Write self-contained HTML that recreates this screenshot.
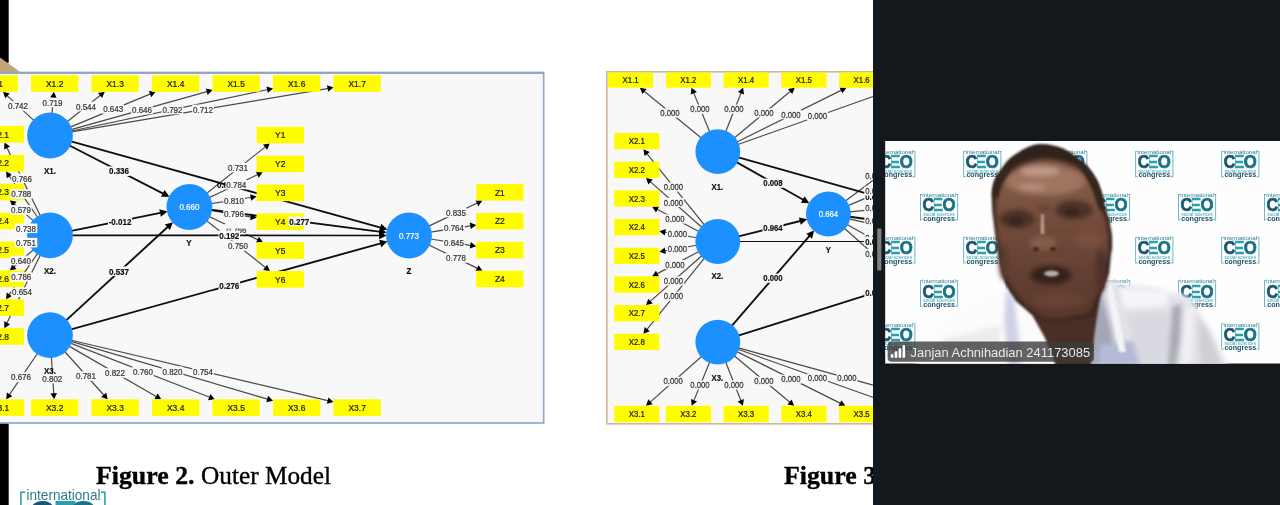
<!DOCTYPE html>
<html lang="en">
<head>
<meta charset="utf-8">
<title>Figure 2. Outer Model</title>
<style>
html,body{margin:0;padding:0;background:#fff;}
body{width:1280px;height:505px;overflow:hidden;position:relative;font-family:"Liberation Sans",sans-serif;}
svg{position:absolute;left:0;top:0;display:block;}
svg text{font-family:"Liberation Sans",sans-serif;}
.t{font-size:9.1px;text-anchor:middle;fill:#222;stroke:#222;stroke-width:0.25px;}
.t.g{fill:#383838;stroke:#383838;}
.t.b{font-weight:bold;fill:#111;stroke:#111;stroke-width:0.2px;}
.t.s{font-size:8.7px;}
.t.st{text-anchor:start;}
.t.w{fill:#fff;stroke:#fff;stroke-width:0.2px;}
.cap{font-family:"Liberation Serif",serif;font-size:24.8px;fill:#000;stroke:#000;stroke-width:0.35px;}
.nm{font-size:13.6px;fill:#e9e9e9;}
</style>
</head>
<body>
<svg width="1280" height="505" viewBox="0 0 1280 505">
<defs>
<filter id="bl" x="-5%" y="-5%" width="110%" height="110%"><feGaussianBlur stdDeviation="0.45"/></filter>
<filter id="bl2" x="-10%" y="-10%" width="120%" height="120%"><feGaussianBlur stdDeviation="2.4"/></filter>
<filter id="bl1" x="-10%" y="-10%" width="120%" height="120%"><feGaussianBlur stdDeviation="1"/></filter>
<filter id="bl3" x="-5%" y="-5%" width="110%" height="110%"><feGaussianBlur stdDeviation="0.35"/></filter>
<linearGradient id="skin" gradientUnits="userSpaceOnUse" x1="0" y1="160" x2="0" y2="320"><stop offset="0" stop-color="#8a624f"/><stop offset="0.4" stop-color="#734b3b"/><stop offset="1" stop-color="#56362a"/></linearGradient>
<clipPath id="cv"><rect x="885.2" y="141" width="395" height="222.5"/></clipPath>
<clipPath id="cl"><rect x="0" y="0" width="873" height="505"/></clipPath>
</defs>
<rect x="0" y="0" width="1280" height="505" fill="#fff"/>
<g clip-path="url(#cl)">
<g filter="url(#bl)">
<rect x="0" y="0" width="8.7" height="62.8" fill="#000"/>
<polygon points="0,57.5 21,72.4 0,72.4" fill="#c2a678"/>
<g id="fig2">
<rect x="-40" y="72.5" width="583.7" height="350.5" fill="#f8f8f9" stroke="#94a8c8" stroke-width="1.7"/>
<rect x="-40" y="72.2" width="583.7" height="1.7" fill="#90a4c6"/>
<line x1="33.97" y1="120.58" x2="6.58" y2="95.07" stroke="#4a4a4a" stroke-width="1.2"/>
<polygon points="3.06,91.8 9.7,93.47 5.21,98.3" fill="#000"/>
<line x1="51.95" y1="113.69" x2="53.48" y2="96.58" stroke="#4a4a4a" stroke-width="1.2"/>
<polygon points="53.91,91.8 56.66,98.07 50.09,97.48" fill="#000"/>
<line x1="67.12" y1="121.84" x2="101" y2="94.79" stroke="#4a4a4a" stroke-width="1.2"/>
<polygon points="104.75,91.8 102.12,98.12 98,92.96" fill="#000"/>
<line x1="70.24" y1="127.13" x2="151.16" y2="93.64" stroke="#4a4a4a" stroke-width="1.2"/>
<polygon points="155.59,91.8 151.31,97.14 148.79,91.05" fill="#000"/>
<line x1="71.09" y1="129.61" x2="207.88" y2="91.4" stroke="#4a4a4a" stroke-width="1.2"/>
<polygon points="212.5,90.11 207.61,94.9 205.83,88.54" fill="#000"/>
<line x1="71.43" y1="130.98" x2="268.3" y2="89.48" stroke="#4a4a4a" stroke-width="1.2"/>
<polygon points="273,88.49 267.81,92.95 266.45,86.49" fill="#000"/>
<line x1="71.59" y1="131.84" x2="328.77" y2="88.31" stroke="#4a4a4a" stroke-width="1.2"/>
<polygon points="333.5,87.5 328.14,91.76 327.03,85.25" fill="#000"/>
<line x1="37.65" y1="353.28" x2="8.93" y2="395.34" stroke="#4a4a4a" stroke-width="1.2"/>
<polygon points="6.22,399.3 6.88,392.48 12.33,396.21" fill="#000"/>
<line x1="51.4" y1="357.05" x2="53.81" y2="394.51" stroke="#4a4a4a" stroke-width="1.2"/>
<polygon points="54.12,399.3 50.44,393.52 57.03,393.1" fill="#000"/>
<line x1="64.65" y1="351.48" x2="104.47" y2="395.73" stroke="#4a4a4a" stroke-width="1.2"/>
<polygon points="107.68,399.3 101.21,397.05 106.12,392.63" fill="#000"/>
<line x1="68.98" y1="346.13" x2="157.09" y2="396.9" stroke="#4a4a4a" stroke-width="1.2"/>
<polygon points="161.25,399.3 154.4,399.16 157.69,393.45" fill="#000"/>
<line x1="70.41" y1="343.14" x2="210.34" y2="397.56" stroke="#4a4a4a" stroke-width="1.2"/>
<polygon points="214.81,399.3 208.02,400.2 210.41,394.05" fill="#000"/>
<line x1="71.01" y1="341.37" x2="268.39" y2="399.31" stroke="#4a4a4a" stroke-width="1.2"/>
<polygon points="273,400.66 266.31,402.13 268.17,395.8" fill="#000"/>
<line x1="71.32" y1="340.22" x2="328.83" y2="400.92" stroke="#4a4a4a" stroke-width="1.2"/>
<polygon points="333.5,402.03 326.9,403.86 328.42,397.44" fill="#000"/>
<line x1="40.34" y1="215.65" x2="6.55" y2="146.91" stroke="#4a4a4a" stroke-width="1.2"/>
<polygon points="4.43,142.6 10.04,146.53 4.12,149.44" fill="#000"/>
<line x1="37.58" y1="217.26" x2="8.79" y2="175.43" stroke="#4a4a4a" stroke-width="1.2"/>
<polygon points="6.06,171.48 12.18,174.55 6.75,178.29" fill="#000"/>
<line x1="33.49" y1="220.92" x2="13.5" y2="203.51" stroke="#4a4a4a" stroke-width="1.2"/>
<polygon points="9.88,200.36 16.57,201.81 12.24,206.79" fill="#000"/>
<line x1="28.96" y1="229.22" x2="28.61" y2="229.11" stroke="#4a4a4a" stroke-width="1.2"/>
<polygon points="24,227.78 30.68,226.28 28.85,232.62" fill="#000"/>
<line x1="28.98" y1="241.45" x2="28.61" y2="241.56" stroke="#4a4a4a" stroke-width="1.2"/>
<polygon points="24,242.9 28.83,238.05 30.69,244.39" fill="#000"/>
<line x1="33.51" y1="249.71" x2="13.46" y2="267.24" stroke="#4a4a4a" stroke-width="1.2"/>
<polygon points="9.85,270.4 12.19,263.97 16.53,268.94" fill="#000"/>
<line x1="37.6" y1="253.35" x2="8.77" y2="295.32" stroke="#4a4a4a" stroke-width="1.2"/>
<polygon points="6.05,299.28 6.73,292.47 12.17,296.2" fill="#000"/>
<line x1="40.35" y1="254.96" x2="6.54" y2="323.85" stroke="#4a4a4a" stroke-width="1.2"/>
<polygon points="4.42,328.16 4.1,321.32 10.03,324.23" fill="#000"/>
<line x1="206.57" y1="193.41" x2="266" y2="146.38" stroke="#4a4a4a" stroke-width="1.2"/>
<polygon points="269.76,143.4 267.11,149.71 263.01,144.54" fill="#000"/>
<line x1="209.19" y1="197.62" x2="258.4" y2="174.31" stroke="#4a4a4a" stroke-width="1.2"/>
<polygon points="262.73,172.25 258.73,177.8 255.9,171.84" fill="#000"/>
<line x1="211.04" y1="203.62" x2="251.86" y2="197.24" stroke="#4a4a4a" stroke-width="1.2"/>
<polygon points="256.6,196.5 251.18,200.68 250.16,194.16" fill="#000"/>
<line x1="211.02" y1="210.49" x2="251.86" y2="217.07" stroke="#4a4a4a" stroke-width="1.2"/>
<polygon points="256.6,217.84 250.15,220.14 251.2,213.62" fill="#000"/>
<line x1="209.15" y1="216.46" x2="258.59" y2="240.13" stroke="#4a4a4a" stroke-width="1.2"/>
<polygon points="262.92,242.2 256.08,242.59 258.93,236.63" fill="#000"/>
<line x1="206.53" y1="220.64" x2="266.07" y2="268.06" stroke="#4a4a4a" stroke-width="1.2"/>
<polygon points="269.83,271.05 263.08,269.89 267.19,264.73" fill="#000"/>
<line x1="428.78" y1="226.1" x2="478.06" y2="202.66" stroke="#4a4a4a" stroke-width="1.2"/>
<polygon points="482.4,200.6 478.39,206.16 475.56,200.2" fill="#000"/>
<line x1="430.63" y1="232.09" x2="471.46" y2="225.67" stroke="#4a4a4a" stroke-width="1.2"/>
<polygon points="476.2,224.92 470.79,229.12 469.76,222.6" fill="#000"/>
<line x1="430.62" y1="238.97" x2="471.46" y2="245.54" stroke="#4a4a4a" stroke-width="1.2"/>
<polygon points="476.2,246.3 469.75,248.61 470.8,242.09" fill="#000"/>
<line x1="428.75" y1="244.96" x2="478.19" y2="268.63" stroke="#4a4a4a" stroke-width="1.2"/>
<polygon points="482.52,270.7 475.68,271.09 478.53,265.13" fill="#000"/>
<line x1="69.49" y1="145.49" x2="164.13" y2="194.04" stroke="#111" stroke-width="1.9"/>
<polygon points="169.47,196.78 161.06,196.74 164.53,189.97" fill="#000"/>
<line x1="71.46" y1="230.94" x2="161.57" y2="212.65" stroke="#111" stroke-width="1.9"/>
<polygon points="167.45,211.46 160.85,216.67 159.34,209.22" fill="#000"/>
<line x1="66.12" y1="320.38" x2="168.5" y2="226.22" stroke="#111" stroke-width="1.9"/>
<polygon points="172.91,222.16 169.96,230.04 164.82,224.44" fill="#000"/>
<line x1="71.1" y1="141.38" x2="381.64" y2="227.88" stroke="#111" stroke-width="1.9"/>
<polygon points="387.42,229.49 379.18,231.14 381.22,223.82" fill="#000"/>
<line x1="71.9" y1="235.31" x2="380.6" y2="235.48" stroke="#111" stroke-width="1.7"/>
<polygon points="386.6,235.49 379.1,239.28 379.1,231.68" fill="#000"/>
<line x1="71.1" y1="329.34" x2="381.64" y2="243.1" stroke="#111" stroke-width="1.9"/>
<polygon points="387.42,241.49 381.21,247.16 379.17,239.84" fill="#000"/>
<line x1="211.12" y1="209.82" x2="380.84" y2="231.84" stroke="#111" stroke-width="1.9"/>
<polygon points="386.79,232.62 378.86,235.42 379.84,227.88" fill="#000"/>
<rect x="-29.5" y="75.2" width="47.3" height="16.6" fill="#fffb00"/>
<text transform="translate(-5.85 86.78) scale(0.93 1)" class="t">X1.1</text>
<rect x="31" y="75.2" width="47.3" height="16.6" fill="#fffb00"/>
<text transform="translate(54.65 86.78) scale(0.93 1)" class="t">X1.2</text>
<rect x="91.5" y="75.2" width="47.3" height="16.6" fill="#fffb00"/>
<text transform="translate(115.15 86.78) scale(0.93 1)" class="t">X1.3</text>
<rect x="152" y="75.2" width="47.3" height="16.6" fill="#fffb00"/>
<text transform="translate(175.65 86.78) scale(0.93 1)" class="t">X1.4</text>
<rect x="212.5" y="75.2" width="47.3" height="16.6" fill="#fffb00"/>
<text transform="translate(236.15 86.78) scale(0.93 1)" class="t">X1.5</text>
<rect x="273" y="75.2" width="47.3" height="16.6" fill="#fffb00"/>
<text transform="translate(296.65 86.78) scale(0.93 1)" class="t">X1.6</text>
<rect x="333.5" y="75.2" width="47.3" height="16.6" fill="#fffb00"/>
<text transform="translate(357.15 86.78) scale(0.93 1)" class="t">X1.7</text>
<rect x="-23.1" y="399.3" width="47.3" height="16.6" fill="#fffb00"/>
<text transform="translate(0.55 410.88) scale(0.93 1)" class="t">X3.1</text>
<rect x="31" y="399.3" width="47.3" height="16.6" fill="#fffb00"/>
<text transform="translate(54.65 410.88) scale(0.93 1)" class="t">X3.2</text>
<rect x="91.5" y="399.3" width="47.3" height="16.6" fill="#fffb00"/>
<text transform="translate(115.15 410.88) scale(0.93 1)" class="t">X3.3</text>
<rect x="152" y="399.3" width="47.3" height="16.6" fill="#fffb00"/>
<text transform="translate(175.65 410.88) scale(0.93 1)" class="t">X3.4</text>
<rect x="212.5" y="399.3" width="47.3" height="16.6" fill="#fffb00"/>
<text transform="translate(236.15 410.88) scale(0.93 1)" class="t">X3.5</text>
<rect x="273" y="399.3" width="47.3" height="16.6" fill="#fffb00"/>
<text transform="translate(296.65 410.88) scale(0.93 1)" class="t">X3.6</text>
<rect x="333.5" y="399.3" width="47.3" height="16.6" fill="#fffb00"/>
<text transform="translate(357.15 410.88) scale(0.93 1)" class="t">X3.7</text>
<rect x="-23.3" y="126" width="47.3" height="16.6" fill="#fffb00"/>
<text transform="translate(0.35 137.58) scale(0.93 1)" class="t">X2.1</text>
<rect x="-23.3" y="154.88" width="47.3" height="16.6" fill="#fffb00"/>
<text transform="translate(0.35 166.46) scale(0.93 1)" class="t">X2.2</text>
<rect x="-23.3" y="183.76" width="47.3" height="16.6" fill="#fffb00"/>
<text transform="translate(0.35 195.34) scale(0.93 1)" class="t">X2.3</text>
<rect x="-23.3" y="212.64" width="47.3" height="16.6" fill="#fffb00"/>
<text transform="translate(0.35 224.22) scale(0.93 1)" class="t">X2.4</text>
<rect x="-23.3" y="241.52" width="47.3" height="16.6" fill="#fffb00"/>
<text transform="translate(0.35 253.1) scale(0.93 1)" class="t">X2.5</text>
<rect x="-23.3" y="270.4" width="47.3" height="16.6" fill="#fffb00"/>
<text transform="translate(0.35 281.98) scale(0.93 1)" class="t">X2.6</text>
<rect x="-23.3" y="299.28" width="47.3" height="16.6" fill="#fffb00"/>
<text transform="translate(0.35 310.86) scale(0.93 1)" class="t">X2.7</text>
<rect x="-23.3" y="328.16" width="47.3" height="16.6" fill="#fffb00"/>
<text transform="translate(0.35 339.74) scale(0.93 1)" class="t">X2.8</text>
<rect x="256.6" y="126.8" width="47.3" height="16.6" fill="#fffb00"/>
<text transform="translate(280.25 138.38) scale(0.93 1)" class="t">Y1</text>
<rect x="256.6" y="155.65" width="47.3" height="16.6" fill="#fffb00"/>
<text transform="translate(280.25 167.23) scale(0.93 1)" class="t">Y2</text>
<rect x="256.6" y="184.5" width="47.3" height="16.6" fill="#fffb00"/>
<text transform="translate(280.25 196.08) scale(0.93 1)" class="t">Y3</text>
<rect x="256.6" y="213.35" width="47.3" height="16.6" fill="#fffb00"/>
<text transform="translate(280.25 224.93) scale(0.93 1)" class="t">Y4</text>
<rect x="256.6" y="242.2" width="47.3" height="16.6" fill="#fffb00"/>
<text transform="translate(280.25 253.78) scale(0.93 1)" class="t">Y5</text>
<rect x="256.6" y="271.05" width="47.3" height="16.6" fill="#fffb00"/>
<text transform="translate(280.25 282.63) scale(0.93 1)" class="t">Y6</text>
<rect x="476.2" y="184" width="47.3" height="16.6" fill="#fffb00"/>
<text transform="translate(499.85 195.58) scale(0.93 1)" class="t">Z1</text>
<rect x="476.2" y="212.9" width="47.3" height="16.6" fill="#fffb00"/>
<text transform="translate(499.85 224.48) scale(0.93 1)" class="t">Z2</text>
<rect x="476.2" y="241.8" width="47.3" height="16.6" fill="#fffb00"/>
<text transform="translate(499.85 253.38) scale(0.93 1)" class="t">Z3</text>
<rect x="476.2" y="270.7" width="47.3" height="16.6" fill="#fffb00"/>
<text transform="translate(499.85 282.28) scale(0.93 1)" class="t">Z4</text>
<circle cx="50" cy="135.5" r="22.9" fill="#1e90ff"/>
<circle cx="50" cy="235.3" r="22.9" fill="#1e90ff"/>
<circle cx="50" cy="335.2" r="22.9" fill="#1e90ff"/>
<circle cx="189.4" cy="207" r="22.9" fill="#1e90ff"/>
<text transform="translate(189.4 210.1) scale(0.88 1)" class="t w">0.660</text>
<circle cx="409" cy="235.5" r="22.9" fill="#1e90ff"/>
<text transform="translate(409 238.6) scale(0.88 1)" class="t w">0.773</text>
<text transform="translate(222.5 188.28) scale(0.88 1)" class="t b">0.0</text>
<rect x="7.24" y="101.22" width="21.52" height="9.55" fill="#f8f8f9"/>
<text transform="translate(18 109.28) scale(0.88 1)" class="t g">0.742</text>
<rect x="41.74" y="97.72" width="21.52" height="9.55" fill="#f8f8f9"/>
<text transform="translate(52.5 105.78) scale(0.88 1)" class="t g">0.719</text>
<rect x="75.24" y="101.72" width="21.52" height="9.55" fill="#f8f8f9"/>
<text transform="translate(86 109.78) scale(0.88 1)" class="t g">0.544</text>
<rect x="102.44" y="104.22" width="21.52" height="9.55" fill="#f8f8f9"/>
<text transform="translate(113.2 112.28) scale(0.88 1)" class="t g">0.643</text>
<rect x="131.24" y="104.72" width="21.52" height="9.55" fill="#f8f8f9"/>
<text transform="translate(142 112.78) scale(0.88 1)" class="t g">0.646</text>
<rect x="161.74" y="104.72" width="21.52" height="9.55" fill="#f8f8f9"/>
<text transform="translate(172.5 112.78) scale(0.88 1)" class="t g">0.792</text>
<rect x="192.24" y="104.72" width="21.52" height="9.55" fill="#f8f8f9"/>
<text transform="translate(203 112.78) scale(0.88 1)" class="t g">0.712</text>
<rect x="10.24" y="372.22" width="21.52" height="9.55" fill="#f8f8f9"/>
<text transform="translate(21 380.28) scale(0.88 1)" class="t g">0.676</text>
<rect x="41.54" y="373.82" width="21.52" height="9.55" fill="#f8f8f9"/>
<text transform="translate(52.3 381.88) scale(0.88 1)" class="t g">0.802</text>
<rect x="75.24" y="371.22" width="21.52" height="9.55" fill="#f8f8f9"/>
<text transform="translate(86 379.28) scale(0.88 1)" class="t g">0.781</text>
<rect x="104.24" y="368.22" width="21.52" height="9.55" fill="#f8f8f9"/>
<text transform="translate(115 376.28) scale(0.88 1)" class="t g">0.822</text>
<rect x="132.24" y="366.52" width="21.52" height="9.55" fill="#f8f8f9"/>
<text transform="translate(143 374.58) scale(0.88 1)" class="t g">0.760</text>
<rect x="161.74" y="366.52" width="21.52" height="9.55" fill="#f8f8f9"/>
<text transform="translate(172.5 374.58) scale(0.88 1)" class="t g">0.820</text>
<rect x="192.24" y="366.52" width="21.52" height="9.55" fill="#f8f8f9"/>
<text transform="translate(203 374.58) scale(0.88 1)" class="t g">0.754</text>
<rect x="11.24" y="173.52" width="21.52" height="9.55" fill="#f8f8f9"/>
<text transform="translate(22 181.58) scale(0.88 1)" class="t g">0.766</text>
<rect x="10.54" y="189.22" width="21.52" height="9.55" fill="#f8f8f9"/>
<text transform="translate(21.3 197.28) scale(0.88 1)" class="t g">0.788</text>
<rect x="10.24" y="205.22" width="21.52" height="9.55" fill="#f8f8f9"/>
<text transform="translate(21 213.28) scale(0.88 1)" class="t g">0.579</text>
<rect x="10.24" y="255.72" width="21.52" height="9.55" fill="#f8f8f9"/>
<text transform="translate(21 263.78) scale(0.88 1)" class="t g">0.640</text>
<rect x="10.54" y="272.22" width="21.52" height="9.55" fill="#f8f8f9"/>
<text transform="translate(21.3 280.28) scale(0.88 1)" class="t g">0.786</text>
<rect x="11.24" y="287.42" width="21.52" height="9.55" fill="#f8f8f9"/>
<text transform="translate(22 295.48) scale(0.88 1)" class="t g">0.654</text>
<rect x="227.24" y="162.92" width="21.52" height="9.55" fill="#f8f8f9"/>
<text transform="translate(238 170.98) scale(0.88 1)" class="t g">0.731</text>
<rect x="225.54" y="179.72" width="21.52" height="9.55" fill="#f8f8f9"/>
<text transform="translate(236.3 187.78) scale(0.88 1)" class="t g">0.784</text>
<rect x="223.24" y="195.72" width="21.52" height="9.55" fill="#f8f8f9"/>
<text transform="translate(234 203.78) scale(0.88 1)" class="t g">0.810</text>
<rect x="223.24" y="209.22" width="21.52" height="9.55" fill="#f8f8f9"/>
<text transform="translate(234 217.28) scale(0.88 1)" class="t g">0.796</text>
<rect x="225.74" y="224.52" width="21.52" height="9.55" fill="#f8f8f9"/>
<text transform="translate(236.5 232.58) scale(0.88 1)" class="t g">0.766</text>
<rect x="227.24" y="241.22" width="21.52" height="9.55" fill="#f8f8f9"/>
<text transform="translate(238 249.28) scale(0.88 1)" class="t g">0.750</text>
<rect x="445.24" y="207.72" width="21.52" height="9.55" fill="#f8f8f9"/>
<text transform="translate(456 215.78) scale(0.88 1)" class="t g">0.835</text>
<rect x="443.24" y="223.22" width="21.52" height="9.55" fill="#f8f8f9"/>
<text transform="translate(454 231.28) scale(0.88 1)" class="t g">0.764</text>
<rect x="443.24" y="237.72" width="21.52" height="9.55" fill="#f8f8f9"/>
<text transform="translate(454 245.78) scale(0.88 1)" class="t g">0.845</text>
<rect x="445.24" y="253.22" width="21.52" height="9.55" fill="#f8f8f9"/>
<text transform="translate(456 261.28) scale(0.88 1)" class="t g">0.778</text>
<rect x="224.5" y="224" width="24" height="4.4" fill="#f8f8f9"/>
<text transform="translate(236.5 229.48) scale(0.88 1)" class="t g"></text>
<rect x="14.75" y="223.55" width="22.5" height="9.5" fill="#fdfdfd"/>
<text transform="translate(26 231.58) scale(0.88 1)" class="t g">0.738</text>
<rect x="14.75" y="237.85" width="22.5" height="9.5" fill="#fdfdfd"/>
<text transform="translate(26 245.88) scale(0.88 1)" class="t g">0.751</text>
<rect x="108.24" y="166.42" width="21.52" height="9.55" fill="#f8f8f9"/>
<text transform="translate(119 174.48) scale(0.88 1)" class="t b">0.336</text>
<rect x="108" y="216.52" width="24" height="9.55" fill="#f8f8f9"/>
<text transform="translate(120 224.58) scale(0.88 1)" class="t b">-0.012</text>
<rect x="218.54" y="230.82" width="21.52" height="9.55" fill="#f8f8f9"/>
<text transform="translate(229.3 238.88) scale(0.88 1)" class="t b">0.192</text>
<rect x="108.24" y="266.52" width="21.52" height="9.55" fill="#f8f8f9"/>
<text transform="translate(119 274.58) scale(0.88 1)" class="t b">0.537</text>
<rect x="218.54" y="280.82" width="21.52" height="9.55" fill="#f8f8f9"/>
<text transform="translate(229.3 288.88) scale(0.88 1)" class="t b">0.276</text>
<rect x="288.54" y="216.52" width="21.52" height="9.55" fill="#f8f8f9"/>
<text transform="translate(299.3 224.58) scale(0.88 1)" class="t b">0.277</text>
<text transform="translate(50 174.48) scale(0.88 1)" class="t b">X1.</text>
<text transform="translate(50 274.48) scale(0.88 1)" class="t b">X2.</text>
<text transform="translate(50 373.78) scale(0.88 1)" class="t b">X3.</text>
<text transform="translate(189 245.78) scale(0.88 1)" class="t b">Y</text>
<text transform="translate(409 273.78) scale(0.88 1)" class="t b">Z</text>
</g>
<g id="fig3">
<rect x="606.8" y="71.8" width="300" height="352" fill="#f8f8f9" stroke="#cdb893" stroke-width="1.6"/>
<line x1="701.26" y1="138.03" x2="643.62" y2="90.74" stroke="#4a4a4a" stroke-width="1.2"/>
<polygon points="639.91,87.7 646.65,88.95 642.46,94.06" fill="#000"/>
<line x1="709.66" y1="131.81" x2="693.35" y2="92.14" stroke="#4a4a4a" stroke-width="1.2"/>
<polygon points="691.53,87.7 696.86,91.99 690.75,94.5" fill="#000"/>
<line x1="725.69" y1="131.71" x2="741.37" y2="92.16" stroke="#4a4a4a" stroke-width="1.2"/>
<polygon points="743.14,87.7 743.99,94.49 737.86,92.06" fill="#000"/>
<line x1="734.26" y1="137.93" x2="791.06" y2="90.77" stroke="#4a4a4a" stroke-width="1.2"/>
<polygon points="794.75,87.7 792.24,94.07 788.02,88.99" fill="#000"/>
<line x1="736.96" y1="142.07" x2="842.06" y2="89.84" stroke="#4a4a4a" stroke-width="1.2"/>
<polygon points="846.36,87.7 842.46,93.33 839.52,87.42" fill="#000"/>
<line x1="737.97" y1="144.45" x2="893.45" y2="89.3" stroke="#4a4a4a" stroke-width="1.2"/>
<polygon points="897.97,87.7 893.42,92.82 891.21,86.6" fill="#000"/>
<line x1="701.8" y1="356.31" x2="649.62" y2="402.61" stroke="#4a4a4a" stroke-width="1.2"/>
<polygon points="646.03,405.8 648.33,399.35 652.71,404.29" fill="#000"/>
<line x1="709.7" y1="361.91" x2="693.55" y2="401.36" stroke="#4a4a4a" stroke-width="1.2"/>
<polygon points="691.73,405.8 690.95,399 697.06,401.5" fill="#000"/>
<line x1="725.65" y1="362.01" x2="741.17" y2="401.34" stroke="#4a4a4a" stroke-width="1.2"/>
<polygon points="742.93,405.8 737.66,401.43 743.8,399.01" fill="#000"/>
<line x1="734.23" y1="355.81" x2="790.45" y2="402.72" stroke="#4a4a4a" stroke-width="1.2"/>
<polygon points="794.13,405.8 787.41,404.49 791.64,399.42" fill="#000"/>
<line x1="736.94" y1="351.66" x2="841.04" y2="403.66" stroke="#4a4a4a" stroke-width="1.2"/>
<polygon points="845.33,405.8 838.49,406.07 841.44,400.17" fill="#000"/>
<line x1="737.96" y1="349.28" x2="892.33" y2="404.3" stroke="#4a4a4a" stroke-width="1.2"/>
<polygon points="896.85,405.91 890.09,407.01 892.31,400.79" fill="#000"/>
<line x1="738.42" y1="347.81" x2="949.97" y2="406.42" stroke="#4a4a4a" stroke-width="1.2"/>
<polygon points="954.6,407.7 947.94,409.28 949.7,402.92" fill="#000"/>
<line x1="704.36" y1="224.84" x2="646.44" y2="153.04" stroke="#4a4a4a" stroke-width="1.2"/>
<polygon points="643.42,149.3 649.76,151.9 644.62,156.04" fill="#000"/>
<line x1="701.78" y1="227.31" x2="649.65" y2="181.16" stroke="#4a4a4a" stroke-width="1.2"/>
<polygon points="646.06,177.98 652.74,179.49 648.36,184.43" fill="#000"/>
<line x1="698.9" y1="231.46" x2="656.44" y2="208.91" stroke="#4a4a4a" stroke-width="1.2"/>
<polygon points="652.2,206.66 659.04,206.56 655.95,212.39" fill="#000"/>
<line x1="696.73" y1="237.77" x2="664.13" y2="232.01" stroke="#4a4a4a" stroke-width="1.2"/>
<polygon points="659.4,231.18 665.88,228.97 664.73,235.47" fill="#000"/>
<line x1="696.73" y1="245.24" x2="664.13" y2="251.03" stroke="#4a4a4a" stroke-width="1.2"/>
<polygon points="659.4,251.87 664.73,247.57 665.88,254.07" fill="#000"/>
<line x1="698.91" y1="251.55" x2="656.41" y2="274.15" stroke="#4a4a4a" stroke-width="1.2"/>
<polygon points="652.18,276.4 655.92,270.67 659.02,276.5" fill="#000"/>
<line x1="701.78" y1="255.69" x2="649.64" y2="301.9" stroke="#4a4a4a" stroke-width="1.2"/>
<polygon points="646.05,305.08 648.35,298.63 652.73,303.57" fill="#000"/>
<line x1="704.37" y1="258.16" x2="646.43" y2="330.02" stroke="#4a4a4a" stroke-width="1.2"/>
<polygon points="643.42,333.76 644.62,327.02 649.76,331.16" fill="#000"/>
<line x1="845.47" y1="201.1" x2="900.93" y2="159.19" stroke="#4a4a4a" stroke-width="1.2"/>
<polygon points="904.76,156.3 901.97,162.55 897.99,157.28" fill="#000"/>
<line x1="848.09" y1="205.61" x2="892.02" y2="186.88" stroke="#4a4a4a" stroke-width="1.2"/>
<polygon points="896.43,185 892.21,190.39 889.62,184.32" fill="#000"/>
<line x1="849.7" y1="211.93" x2="888.22" y2="208.2" stroke="#4a4a4a" stroke-width="1.2"/>
<polygon points="893,207.74 887.35,211.6 886.71,205.03" fill="#000"/>
<line x1="849.24" y1="218.84" x2="888.32" y2="227.92" stroke="#4a4a4a" stroke-width="1.2"/>
<polygon points="893,229.01 886.41,230.87 887.9,224.44" fill="#000"/>
<line x1="847.06" y1="224.48" x2="896.85" y2="252.45" stroke="#4a4a4a" stroke-width="1.2"/>
<polygon points="901.04,254.8 894.19,254.74 897.42,248.98" fill="#000"/>
<line x1="844.38" y1="228.24" x2="902.82" y2="280.31" stroke="#4a4a4a" stroke-width="1.2"/>
<polygon points="906.4,283.5 899.73,281.97 904.12,277.04" fill="#000"/>
<line x1="736.44" y1="162.12" x2="804.1" y2="200.29" stroke="#111" stroke-width="1.9"/>
<polygon points="809.33,203.24 800.93,202.86 804.66,196.24" fill="#000"/>
<line x1="738.57" y1="236.34" x2="801.32" y2="220.73" stroke="#111" stroke-width="1.9"/>
<polygon points="807.15,219.28 800.79,224.78 798.95,217.41" fill="#000"/>
<line x1="731.79" y1="325.9" x2="810.17" y2="235.12" stroke="#111" stroke-width="1.9"/>
<polygon points="814.09,230.58 812.06,238.74 806.31,233.77" fill="#000"/>
<line x1="738.4" y1="157.4" x2="1010.14" y2="233.94" stroke="#111" stroke-width="1.9"/>
<polygon points="1015.92,235.56 1007.67,237.19 1009.73,229.87" fill="#000"/>
<line x1="739.2" y1="241.5" x2="1009.1" y2="241.5" stroke="#111" stroke-width="1.2"/>
<polygon points="1015.1,241.5 1007.6,245.3 1007.6,237.7" fill="#000"/>
<line x1="738.21" y1="335.67" x2="1010.39" y2="249.89" stroke="#111" stroke-width="1.9"/>
<polygon points="1016.11,248.08 1010.1,253.96 1007.82,246.71" fill="#000"/>
<line x1="849.62" y1="216.8" x2="1009.34" y2="237.85" stroke="#111" stroke-width="1.9"/>
<polygon points="1015.29,238.64 1007.36,241.42 1008.35,233.89" fill="#000"/>
<rect x="608.1" y="72.5" width="45.1" height="15.2" fill="#fffb00"/>
<text transform="translate(630.65 83.23) scale(0.9 1)" class="t s">X1.1</text>
<rect x="665.85" y="72.5" width="45.1" height="15.2" fill="#fffb00"/>
<text transform="translate(688.4 83.23) scale(0.9 1)" class="t s">X1.2</text>
<rect x="723.6" y="72.5" width="45.1" height="15.2" fill="#fffb00"/>
<text transform="translate(746.15 83.23) scale(0.9 1)" class="t s">X1.4</text>
<rect x="781.35" y="72.5" width="45.1" height="15.2" fill="#fffb00"/>
<text transform="translate(803.9 83.23) scale(0.9 1)" class="t s">X1.5</text>
<rect x="839.1" y="72.5" width="45.1" height="15.2" fill="#fffb00"/>
<text transform="translate(861.65 83.23) scale(0.9 1)" class="t s">X1.6</text>
<rect x="614.3" y="405.8" width="45.1" height="16.3" fill="#fffb00"/>
<text transform="translate(636.85 417.08) scale(0.9 1)" class="t s">X3.1</text>
<rect x="665.85" y="405.8" width="45.1" height="16.3" fill="#fffb00"/>
<text transform="translate(688.4 417.08) scale(0.9 1)" class="t s">X3.2</text>
<rect x="723.6" y="405.8" width="45.1" height="16.3" fill="#fffb00"/>
<text transform="translate(746.15 417.08) scale(0.9 1)" class="t s">X3.3</text>
<rect x="781.35" y="405.8" width="45.1" height="16.3" fill="#fffb00"/>
<text transform="translate(803.9 417.08) scale(0.9 1)" class="t s">X3.4</text>
<rect x="839.1" y="405.8" width="45.1" height="16.3" fill="#fffb00"/>
<text transform="translate(861.65 417.08) scale(0.9 1)" class="t s">X3.5</text>
<rect x="614.3" y="133" width="45.1" height="16.3" fill="#fffb00"/>
<text transform="translate(636.85 144.28) scale(0.9 1)" class="t s">X2.1</text>
<rect x="614.3" y="161.68" width="45.1" height="16.3" fill="#fffb00"/>
<text transform="translate(636.85 172.96) scale(0.9 1)" class="t s">X2.2</text>
<rect x="614.3" y="190.36" width="45.1" height="16.3" fill="#fffb00"/>
<text transform="translate(636.85 201.64) scale(0.9 1)" class="t s">X2.3</text>
<rect x="614.3" y="219.04" width="45.1" height="16.3" fill="#fffb00"/>
<text transform="translate(636.85 230.32) scale(0.9 1)" class="t s">X2.4</text>
<rect x="614.3" y="247.72" width="45.1" height="16.3" fill="#fffb00"/>
<text transform="translate(636.85 259) scale(0.9 1)" class="t s">X2.5</text>
<rect x="614.3" y="276.4" width="45.1" height="16.3" fill="#fffb00"/>
<text transform="translate(636.85 287.68) scale(0.9 1)" class="t s">X2.6</text>
<rect x="614.3" y="305.08" width="45.1" height="16.3" fill="#fffb00"/>
<text transform="translate(636.85 316.36) scale(0.9 1)" class="t s">X2.7</text>
<rect x="614.3" y="333.76" width="45.1" height="16.3" fill="#fffb00"/>
<text transform="translate(636.85 345.04) scale(0.9 1)" class="t s">X2.8</text>
<circle cx="717.8" cy="151.6" r="22.4" fill="#1e90ff"/>
<circle cx="717.8" cy="241.5" r="22.4" fill="#1e90ff"/>
<circle cx="717.8" cy="342.1" r="22.4" fill="#1e90ff"/>
<circle cx="828.4" cy="214" r="22.4" fill="#1e90ff"/>
<text transform="translate(828.4 217.1) scale(0.89 1)" class="t w s">0.664</text>
<rect x="659.57" y="108.43" width="20.86" height="9.13" fill="#f8f8f9"/>
<text transform="translate(670 116.13) scale(0.89 1)" class="t g s">0.000</text>
<rect x="689.57" y="104.63" width="20.86" height="9.13" fill="#f8f8f9"/>
<text transform="translate(700 112.33) scale(0.89 1)" class="t g s">0.000</text>
<rect x="723.57" y="104.63" width="20.86" height="9.13" fill="#f8f8f9"/>
<text transform="translate(734 112.33) scale(0.89 1)" class="t g s">0.000</text>
<rect x="753.57" y="108.43" width="20.86" height="9.13" fill="#f8f8f9"/>
<text transform="translate(764 116.13) scale(0.89 1)" class="t g s">0.000</text>
<rect x="780.57" y="110.03" width="20.86" height="9.13" fill="#f8f8f9"/>
<text transform="translate(791 117.73) scale(0.89 1)" class="t g s">0.000</text>
<rect x="807.07" y="111.43" width="20.86" height="9.13" fill="#f8f8f9"/>
<text transform="translate(817.5 119.13) scale(0.89 1)" class="t g s">0.000</text>
<rect x="662.77" y="376.73" width="20.86" height="9.13" fill="#f8f8f9"/>
<text transform="translate(673.2 384.43) scale(0.89 1)" class="t g s">0.000</text>
<rect x="689.57" y="380.43" width="20.86" height="9.13" fill="#f8f8f9"/>
<text transform="translate(700 388.13) scale(0.89 1)" class="t g s">0.000</text>
<rect x="723.57" y="380.43" width="20.86" height="9.13" fill="#f8f8f9"/>
<text transform="translate(734 388.13) scale(0.89 1)" class="t g s">0.000</text>
<rect x="753.57" y="376.63" width="20.86" height="9.13" fill="#f8f8f9"/>
<text transform="translate(764 384.33) scale(0.89 1)" class="t g s">0.000</text>
<rect x="780.57" y="374.63" width="20.86" height="9.13" fill="#f8f8f9"/>
<text transform="translate(791 382.33) scale(0.89 1)" class="t g s">0.000</text>
<rect x="807.07" y="373.63" width="20.86" height="9.13" fill="#f8f8f9"/>
<text transform="translate(817.5 381.33) scale(0.89 1)" class="t g s">0.000</text>
<rect x="836.57" y="373.63" width="20.86" height="9.13" fill="#f8f8f9"/>
<text transform="translate(847 381.33) scale(0.89 1)" class="t g s">0.000</text>
<rect x="663.07" y="182.43" width="20.86" height="9.13" fill="#f8f8f9"/>
<text transform="translate(673.5 190.13) scale(0.89 1)" class="t g s">0.000</text>
<rect x="663.07" y="197.93" width="20.86" height="9.13" fill="#f8f8f9"/>
<text transform="translate(673.5 205.63) scale(0.89 1)" class="t g s">0.000</text>
<rect x="664.57" y="214.43" width="20.86" height="9.13" fill="#f8f8f9"/>
<text transform="translate(675 222.13) scale(0.89 1)" class="t g s">0.000</text>
<rect x="667.07" y="229.63" width="20.86" height="9.13" fill="#f8f8f9"/>
<text transform="translate(677.5 237.33) scale(0.89 1)" class="t g s">0.000</text>
<rect x="667.07" y="244.43" width="20.86" height="9.13" fill="#f8f8f9"/>
<text transform="translate(677.5 252.13) scale(0.89 1)" class="t g s">0.000</text>
<rect x="664.57" y="260.03" width="20.86" height="9.13" fill="#f8f8f9"/>
<text transform="translate(675 267.73) scale(0.89 1)" class="t g s">0.000</text>
<rect x="663.07" y="276.43" width="20.86" height="9.13" fill="#f8f8f9"/>
<text transform="translate(673.5 284.13) scale(0.89 1)" class="t g s">0.000</text>
<rect x="663.07" y="291.73" width="20.86" height="9.13" fill="#f8f8f9"/>
<text transform="translate(673.5 299.43) scale(0.89 1)" class="t g s">0.000</text>
<rect x="762.57" y="178.63" width="20.86" height="9.13" fill="#f8f8f9"/>
<text transform="translate(773 186.33) scale(0.89 1)" class="t b s">0.008</text>
<rect x="762.57" y="223.73" width="20.86" height="9.13" fill="#f8f8f9"/>
<text transform="translate(773 231.43) scale(0.89 1)" class="t b s">0.964</text>
<rect x="762.57" y="273.63" width="20.86" height="9.13" fill="#f8f8f9"/>
<text transform="translate(773 281.33) scale(0.89 1)" class="t b s">0.000</text>
<text transform="translate(717.3 190.13) scale(0.89 1)" class="t b s">X1.</text>
<text transform="translate(717.3 279.33) scale(0.89 1)" class="t b s">X2.</text>
<text transform="translate(717.3 380.63) scale(0.89 1)" class="t b s">X3.</text>
<text transform="translate(828.3 252.83) scale(0.89 1)" class="t b s">Y</text>
<rect x="864.4" y="170.9" width="12" height="9.2" fill="#f8f8f9"/>
<text transform="translate(865.2 178.63) scale(0.89 1)" class="t g s st">0.0</text>
<rect x="864.4" y="192.4" width="12" height="9.2" fill="#f8f8f9"/>
<text transform="translate(865.2 200.13) scale(0.89 1)" class="t b s st">0.0</text>
<rect x="864.4" y="186.4" width="12" height="9.2" fill="#f8f8f9"/>
<text transform="translate(865.2 194.13) scale(0.89 1)" class="t g s st">0.0</text>
<rect x="864.4" y="202.9" width="12" height="9.2" fill="#f8f8f9"/>
<text transform="translate(865.2 210.63) scale(0.89 1)" class="t g s st">0.0</text>
<rect x="864.4" y="216.4" width="12" height="9.2" fill="#f8f8f9"/>
<text transform="translate(865.2 224.13) scale(0.89 1)" class="t g s st">0.0</text>
<rect x="864.4" y="232.9" width="12" height="9.2" fill="#f8f8f9"/>
<text transform="translate(865.2 240.63) scale(0.89 1)" class="t g s st">0.0</text>
<rect x="864.4" y="236.9" width="12" height="9.2" fill="#f8f8f9"/>
<text transform="translate(865.2 244.63) scale(0.89 1)" class="t b s st">0.0</text>
<rect x="864.4" y="248.9" width="12" height="9.2" fill="#f8f8f9"/>
<text transform="translate(865.2 256.63) scale(0.89 1)" class="t g s st">0.0</text>
<rect x="864.4" y="287.9" width="12" height="9.2" fill="#f8f8f9"/>
<text transform="translate(865.2 295.63) scale(0.89 1)" class="t b s st">0.0</text>
</g>
<rect x="0" y="423.8" width="8.7" height="82" fill="#000"/>
<text x="96" y="484" class="cap" font-weight="bold" textLength="98.5" lengthAdjust="spacingAndGlyphs">Figure 2.</text>
<text x="201" y="484" class="cap" textLength="130" lengthAdjust="spacingAndGlyphs">Outer Model</text>
<text x="784" y="484" class="cap" font-weight="bold" textLength="98.5" lengthAdjust="spacingAndGlyphs">Figure 3.</text>
<g id="botlogo">
<path d="M25 492.2 H20.9 V506 M101 492.2 H104.9 V506" fill="none" stroke="#2a96a6" stroke-width="1.5"/>
<text x="63.5" y="499.6" font-size="14.5" fill="#2c7d8c" text-anchor="middle" textLength="74" lengthAdjust="spacingAndGlyphs">international</text>
<g font-size="42" font-weight="bold" stroke-width="2">
<text x="47" y="531" fill="#2ba0ae" stroke="#2ba0ae" textLength="30" lengthAdjust="spacingAndGlyphs">E</text>
<rect x="44" y="500.4" width="11.5" height="8" fill="#fff"/>
<text x="28.5" y="531" fill="#1c5673" stroke="#1c5673" textLength="27" lengthAdjust="spacingAndGlyphs">C</text>
<text x="69" y="531" fill="#1b7288" stroke="#1b7288" textLength="29" lengthAdjust="spacingAndGlyphs">O</text>
</g>
</g>
</g>
</g>
<rect x="873" y="0" width="407" height="505" fill="#13181c"/>
<rect x="877.2" y="228.5" width="4.2" height="42" rx="1" fill="#7f8183"/>
<g clip-path="url(#cv)">
<rect x="885" y="141" width="396" height="223" fill="#fefefe"/>
<g filter="url(#bl3)">
<g transform="translate(877.3 150.2)">
<rect x="0.4" y="1.2" width="37.2" height="25.4" fill="none" stroke="#45a7b1" stroke-width="0.8"/>
<rect x="2.2" y="0" width="33.8" height="4" fill="#fff"/>
<rect x="2.6" y="22.6" width="32.6" height="6" fill="#fff"/>
<text x="19" y="3.9" font-size="6" fill="#2c7d8c" text-anchor="middle" textLength="33.6" lengthAdjust="spacingAndGlyphs">international</text>
<g font-size="17.6" font-weight="bold">
<text x="9.6" y="18" fill="#2ba0ae" stroke="#2ba0ae" stroke-width="0.5" textLength="13.6" lengthAdjust="spacingAndGlyphs">E</text>
<rect x="9" y="4.6" width="4.8" height="14" fill="#fff"/>
<text x="2.5" y="18" fill="#1c5673" stroke="#1c5673" stroke-width="0.7" textLength="11.6" lengthAdjust="spacingAndGlyphs">C</text>
<text x="22.4" y="18" fill="#1b7288" stroke="#1b7288" stroke-width="0.7" textLength="13" lengthAdjust="spacingAndGlyphs">O</text>
</g>
<text x="19" y="22.5" font-size="4.6" fill="#3aa6b0" text-anchor="middle" textLength="31.6" lengthAdjust="spacingAndGlyphs">social sciences</text>
<text x="19" y="27.3" font-size="7.4" font-weight="bold" fill="#21506b" text-anchor="middle" textLength="31.8" lengthAdjust="spacingAndGlyphs">congress</text>
</g>
<g transform="translate(963.3 150.2)">
<rect x="0.4" y="1.2" width="37.2" height="25.4" fill="none" stroke="#45a7b1" stroke-width="0.8"/>
<rect x="2.2" y="0" width="33.8" height="4" fill="#fff"/>
<rect x="2.6" y="22.6" width="32.6" height="6" fill="#fff"/>
<text x="19" y="3.9" font-size="6" fill="#2c7d8c" text-anchor="middle" textLength="33.6" lengthAdjust="spacingAndGlyphs">international</text>
<g font-size="17.6" font-weight="bold">
<text x="9.6" y="18" fill="#2ba0ae" stroke="#2ba0ae" stroke-width="0.5" textLength="13.6" lengthAdjust="spacingAndGlyphs">E</text>
<rect x="9" y="4.6" width="4.8" height="14" fill="#fff"/>
<text x="2.5" y="18" fill="#1c5673" stroke="#1c5673" stroke-width="0.7" textLength="11.6" lengthAdjust="spacingAndGlyphs">C</text>
<text x="22.4" y="18" fill="#1b7288" stroke="#1b7288" stroke-width="0.7" textLength="13" lengthAdjust="spacingAndGlyphs">O</text>
</g>
<text x="19" y="22.5" font-size="4.6" fill="#3aa6b0" text-anchor="middle" textLength="31.6" lengthAdjust="spacingAndGlyphs">social sciences</text>
<text x="19" y="27.3" font-size="7.4" font-weight="bold" fill="#21506b" text-anchor="middle" textLength="31.8" lengthAdjust="spacingAndGlyphs">congress</text>
</g>
<g transform="translate(1049.3 150.2)">
<rect x="0.4" y="1.2" width="37.2" height="25.4" fill="none" stroke="#45a7b1" stroke-width="0.8"/>
<rect x="2.2" y="0" width="33.8" height="4" fill="#fff"/>
<rect x="2.6" y="22.6" width="32.6" height="6" fill="#fff"/>
<text x="19" y="3.9" font-size="6" fill="#2c7d8c" text-anchor="middle" textLength="33.6" lengthAdjust="spacingAndGlyphs">international</text>
<g font-size="17.6" font-weight="bold">
<text x="9.6" y="18" fill="#2ba0ae" stroke="#2ba0ae" stroke-width="0.5" textLength="13.6" lengthAdjust="spacingAndGlyphs">E</text>
<rect x="9" y="4.6" width="4.8" height="14" fill="#fff"/>
<text x="2.5" y="18" fill="#1c5673" stroke="#1c5673" stroke-width="0.7" textLength="11.6" lengthAdjust="spacingAndGlyphs">C</text>
<text x="22.4" y="18" fill="#1b7288" stroke="#1b7288" stroke-width="0.7" textLength="13" lengthAdjust="spacingAndGlyphs">O</text>
</g>
<text x="19" y="22.5" font-size="4.6" fill="#3aa6b0" text-anchor="middle" textLength="31.6" lengthAdjust="spacingAndGlyphs">social sciences</text>
<text x="19" y="27.3" font-size="7.4" font-weight="bold" fill="#21506b" text-anchor="middle" textLength="31.8" lengthAdjust="spacingAndGlyphs">congress</text>
</g>
<g transform="translate(1135.3 150.2)">
<rect x="0.4" y="1.2" width="37.2" height="25.4" fill="none" stroke="#45a7b1" stroke-width="0.8"/>
<rect x="2.2" y="0" width="33.8" height="4" fill="#fff"/>
<rect x="2.6" y="22.6" width="32.6" height="6" fill="#fff"/>
<text x="19" y="3.9" font-size="6" fill="#2c7d8c" text-anchor="middle" textLength="33.6" lengthAdjust="spacingAndGlyphs">international</text>
<g font-size="17.6" font-weight="bold">
<text x="9.6" y="18" fill="#2ba0ae" stroke="#2ba0ae" stroke-width="0.5" textLength="13.6" lengthAdjust="spacingAndGlyphs">E</text>
<rect x="9" y="4.6" width="4.8" height="14" fill="#fff"/>
<text x="2.5" y="18" fill="#1c5673" stroke="#1c5673" stroke-width="0.7" textLength="11.6" lengthAdjust="spacingAndGlyphs">C</text>
<text x="22.4" y="18" fill="#1b7288" stroke="#1b7288" stroke-width="0.7" textLength="13" lengthAdjust="spacingAndGlyphs">O</text>
</g>
<text x="19" y="22.5" font-size="4.6" fill="#3aa6b0" text-anchor="middle" textLength="31.6" lengthAdjust="spacingAndGlyphs">social sciences</text>
<text x="19" y="27.3" font-size="7.4" font-weight="bold" fill="#21506b" text-anchor="middle" textLength="31.8" lengthAdjust="spacingAndGlyphs">congress</text>
</g>
<g transform="translate(1221.3 150.2)">
<rect x="0.4" y="1.2" width="37.2" height="25.4" fill="none" stroke="#45a7b1" stroke-width="0.8"/>
<rect x="2.2" y="0" width="33.8" height="4" fill="#fff"/>
<rect x="2.6" y="22.6" width="32.6" height="6" fill="#fff"/>
<text x="19" y="3.9" font-size="6" fill="#2c7d8c" text-anchor="middle" textLength="33.6" lengthAdjust="spacingAndGlyphs">international</text>
<g font-size="17.6" font-weight="bold">
<text x="9.6" y="18" fill="#2ba0ae" stroke="#2ba0ae" stroke-width="0.5" textLength="13.6" lengthAdjust="spacingAndGlyphs">E</text>
<rect x="9" y="4.6" width="4.8" height="14" fill="#fff"/>
<text x="2.5" y="18" fill="#1c5673" stroke="#1c5673" stroke-width="0.7" textLength="11.6" lengthAdjust="spacingAndGlyphs">C</text>
<text x="22.4" y="18" fill="#1b7288" stroke="#1b7288" stroke-width="0.7" textLength="13" lengthAdjust="spacingAndGlyphs">O</text>
</g>
<text x="19" y="22.5" font-size="4.6" fill="#3aa6b0" text-anchor="middle" textLength="31.6" lengthAdjust="spacingAndGlyphs">social sciences</text>
<text x="19" y="27.3" font-size="7.4" font-weight="bold" fill="#21506b" text-anchor="middle" textLength="31.8" lengthAdjust="spacingAndGlyphs">congress</text>
</g>
<g transform="translate(920.1 193.3)">
<rect x="0.4" y="1.2" width="37.2" height="25.4" fill="none" stroke="#45a7b1" stroke-width="0.8"/>
<rect x="2.2" y="0" width="33.8" height="4" fill="#fff"/>
<rect x="2.6" y="22.6" width="32.6" height="6" fill="#fff"/>
<text x="19" y="3.9" font-size="6" fill="#2c7d8c" text-anchor="middle" textLength="33.6" lengthAdjust="spacingAndGlyphs">international</text>
<g font-size="17.6" font-weight="bold">
<text x="9.6" y="18" fill="#2ba0ae" stroke="#2ba0ae" stroke-width="0.5" textLength="13.6" lengthAdjust="spacingAndGlyphs">E</text>
<rect x="9" y="4.6" width="4.8" height="14" fill="#fff"/>
<text x="2.5" y="18" fill="#1c5673" stroke="#1c5673" stroke-width="0.7" textLength="11.6" lengthAdjust="spacingAndGlyphs">C</text>
<text x="22.4" y="18" fill="#1b7288" stroke="#1b7288" stroke-width="0.7" textLength="13" lengthAdjust="spacingAndGlyphs">O</text>
</g>
<text x="19" y="22.5" font-size="4.6" fill="#3aa6b0" text-anchor="middle" textLength="31.6" lengthAdjust="spacingAndGlyphs">social sciences</text>
<text x="19" y="27.3" font-size="7.4" font-weight="bold" fill="#21506b" text-anchor="middle" textLength="31.8" lengthAdjust="spacingAndGlyphs">congress</text>
</g>
<g transform="translate(1006.1 193.3)">
<rect x="0.4" y="1.2" width="37.2" height="25.4" fill="none" stroke="#45a7b1" stroke-width="0.8"/>
<rect x="2.2" y="0" width="33.8" height="4" fill="#fff"/>
<rect x="2.6" y="22.6" width="32.6" height="6" fill="#fff"/>
<text x="19" y="3.9" font-size="6" fill="#2c7d8c" text-anchor="middle" textLength="33.6" lengthAdjust="spacingAndGlyphs">international</text>
<g font-size="17.6" font-weight="bold">
<text x="9.6" y="18" fill="#2ba0ae" stroke="#2ba0ae" stroke-width="0.5" textLength="13.6" lengthAdjust="spacingAndGlyphs">E</text>
<rect x="9" y="4.6" width="4.8" height="14" fill="#fff"/>
<text x="2.5" y="18" fill="#1c5673" stroke="#1c5673" stroke-width="0.7" textLength="11.6" lengthAdjust="spacingAndGlyphs">C</text>
<text x="22.4" y="18" fill="#1b7288" stroke="#1b7288" stroke-width="0.7" textLength="13" lengthAdjust="spacingAndGlyphs">O</text>
</g>
<text x="19" y="22.5" font-size="4.6" fill="#3aa6b0" text-anchor="middle" textLength="31.6" lengthAdjust="spacingAndGlyphs">social sciences</text>
<text x="19" y="27.3" font-size="7.4" font-weight="bold" fill="#21506b" text-anchor="middle" textLength="31.8" lengthAdjust="spacingAndGlyphs">congress</text>
</g>
<g transform="translate(1092.1 193.3)">
<rect x="0.4" y="1.2" width="37.2" height="25.4" fill="none" stroke="#45a7b1" stroke-width="0.8"/>
<rect x="2.2" y="0" width="33.8" height="4" fill="#fff"/>
<rect x="2.6" y="22.6" width="32.6" height="6" fill="#fff"/>
<text x="19" y="3.9" font-size="6" fill="#2c7d8c" text-anchor="middle" textLength="33.6" lengthAdjust="spacingAndGlyphs">international</text>
<g font-size="17.6" font-weight="bold">
<text x="9.6" y="18" fill="#2ba0ae" stroke="#2ba0ae" stroke-width="0.5" textLength="13.6" lengthAdjust="spacingAndGlyphs">E</text>
<rect x="9" y="4.6" width="4.8" height="14" fill="#fff"/>
<text x="2.5" y="18" fill="#1c5673" stroke="#1c5673" stroke-width="0.7" textLength="11.6" lengthAdjust="spacingAndGlyphs">C</text>
<text x="22.4" y="18" fill="#1b7288" stroke="#1b7288" stroke-width="0.7" textLength="13" lengthAdjust="spacingAndGlyphs">O</text>
</g>
<text x="19" y="22.5" font-size="4.6" fill="#3aa6b0" text-anchor="middle" textLength="31.6" lengthAdjust="spacingAndGlyphs">social sciences</text>
<text x="19" y="27.3" font-size="7.4" font-weight="bold" fill="#21506b" text-anchor="middle" textLength="31.8" lengthAdjust="spacingAndGlyphs">congress</text>
</g>
<g transform="translate(1178.1 193.3)">
<rect x="0.4" y="1.2" width="37.2" height="25.4" fill="none" stroke="#45a7b1" stroke-width="0.8"/>
<rect x="2.2" y="0" width="33.8" height="4" fill="#fff"/>
<rect x="2.6" y="22.6" width="32.6" height="6" fill="#fff"/>
<text x="19" y="3.9" font-size="6" fill="#2c7d8c" text-anchor="middle" textLength="33.6" lengthAdjust="spacingAndGlyphs">international</text>
<g font-size="17.6" font-weight="bold">
<text x="9.6" y="18" fill="#2ba0ae" stroke="#2ba0ae" stroke-width="0.5" textLength="13.6" lengthAdjust="spacingAndGlyphs">E</text>
<rect x="9" y="4.6" width="4.8" height="14" fill="#fff"/>
<text x="2.5" y="18" fill="#1c5673" stroke="#1c5673" stroke-width="0.7" textLength="11.6" lengthAdjust="spacingAndGlyphs">C</text>
<text x="22.4" y="18" fill="#1b7288" stroke="#1b7288" stroke-width="0.7" textLength="13" lengthAdjust="spacingAndGlyphs">O</text>
</g>
<text x="19" y="22.5" font-size="4.6" fill="#3aa6b0" text-anchor="middle" textLength="31.6" lengthAdjust="spacingAndGlyphs">social sciences</text>
<text x="19" y="27.3" font-size="7.4" font-weight="bold" fill="#21506b" text-anchor="middle" textLength="31.8" lengthAdjust="spacingAndGlyphs">congress</text>
</g>
<g transform="translate(1264.1 193.3)">
<rect x="0.4" y="1.2" width="37.2" height="25.4" fill="none" stroke="#45a7b1" stroke-width="0.8"/>
<rect x="2.2" y="0" width="33.8" height="4" fill="#fff"/>
<rect x="2.6" y="22.6" width="32.6" height="6" fill="#fff"/>
<text x="19" y="3.9" font-size="6" fill="#2c7d8c" text-anchor="middle" textLength="33.6" lengthAdjust="spacingAndGlyphs">international</text>
<g font-size="17.6" font-weight="bold">
<text x="9.6" y="18" fill="#2ba0ae" stroke="#2ba0ae" stroke-width="0.5" textLength="13.6" lengthAdjust="spacingAndGlyphs">E</text>
<rect x="9" y="4.6" width="4.8" height="14" fill="#fff"/>
<text x="2.5" y="18" fill="#1c5673" stroke="#1c5673" stroke-width="0.7" textLength="11.6" lengthAdjust="spacingAndGlyphs">C</text>
<text x="22.4" y="18" fill="#1b7288" stroke="#1b7288" stroke-width="0.7" textLength="13" lengthAdjust="spacingAndGlyphs">O</text>
</g>
<text x="19" y="22.5" font-size="4.6" fill="#3aa6b0" text-anchor="middle" textLength="31.6" lengthAdjust="spacingAndGlyphs">social sciences</text>
<text x="19" y="27.3" font-size="7.4" font-weight="bold" fill="#21506b" text-anchor="middle" textLength="31.8" lengthAdjust="spacingAndGlyphs">congress</text>
</g>
<g transform="translate(877.3 236.4)">
<rect x="0.4" y="1.2" width="37.2" height="25.4" fill="none" stroke="#45a7b1" stroke-width="0.8"/>
<rect x="2.2" y="0" width="33.8" height="4" fill="#fff"/>
<rect x="2.6" y="22.6" width="32.6" height="6" fill="#fff"/>
<text x="19" y="3.9" font-size="6" fill="#2c7d8c" text-anchor="middle" textLength="33.6" lengthAdjust="spacingAndGlyphs">international</text>
<g font-size="17.6" font-weight="bold">
<text x="9.6" y="18" fill="#2ba0ae" stroke="#2ba0ae" stroke-width="0.5" textLength="13.6" lengthAdjust="spacingAndGlyphs">E</text>
<rect x="9" y="4.6" width="4.8" height="14" fill="#fff"/>
<text x="2.5" y="18" fill="#1c5673" stroke="#1c5673" stroke-width="0.7" textLength="11.6" lengthAdjust="spacingAndGlyphs">C</text>
<text x="22.4" y="18" fill="#1b7288" stroke="#1b7288" stroke-width="0.7" textLength="13" lengthAdjust="spacingAndGlyphs">O</text>
</g>
<text x="19" y="22.5" font-size="4.6" fill="#3aa6b0" text-anchor="middle" textLength="31.6" lengthAdjust="spacingAndGlyphs">social sciences</text>
<text x="19" y="27.3" font-size="7.4" font-weight="bold" fill="#21506b" text-anchor="middle" textLength="31.8" lengthAdjust="spacingAndGlyphs">congress</text>
</g>
<g transform="translate(963.3 236.4)">
<rect x="0.4" y="1.2" width="37.2" height="25.4" fill="none" stroke="#45a7b1" stroke-width="0.8"/>
<rect x="2.2" y="0" width="33.8" height="4" fill="#fff"/>
<rect x="2.6" y="22.6" width="32.6" height="6" fill="#fff"/>
<text x="19" y="3.9" font-size="6" fill="#2c7d8c" text-anchor="middle" textLength="33.6" lengthAdjust="spacingAndGlyphs">international</text>
<g font-size="17.6" font-weight="bold">
<text x="9.6" y="18" fill="#2ba0ae" stroke="#2ba0ae" stroke-width="0.5" textLength="13.6" lengthAdjust="spacingAndGlyphs">E</text>
<rect x="9" y="4.6" width="4.8" height="14" fill="#fff"/>
<text x="2.5" y="18" fill="#1c5673" stroke="#1c5673" stroke-width="0.7" textLength="11.6" lengthAdjust="spacingAndGlyphs">C</text>
<text x="22.4" y="18" fill="#1b7288" stroke="#1b7288" stroke-width="0.7" textLength="13" lengthAdjust="spacingAndGlyphs">O</text>
</g>
<text x="19" y="22.5" font-size="4.6" fill="#3aa6b0" text-anchor="middle" textLength="31.6" lengthAdjust="spacingAndGlyphs">social sciences</text>
<text x="19" y="27.3" font-size="7.4" font-weight="bold" fill="#21506b" text-anchor="middle" textLength="31.8" lengthAdjust="spacingAndGlyphs">congress</text>
</g>
<g transform="translate(1049.3 236.4)">
<rect x="0.4" y="1.2" width="37.2" height="25.4" fill="none" stroke="#45a7b1" stroke-width="0.8"/>
<rect x="2.2" y="0" width="33.8" height="4" fill="#fff"/>
<rect x="2.6" y="22.6" width="32.6" height="6" fill="#fff"/>
<text x="19" y="3.9" font-size="6" fill="#2c7d8c" text-anchor="middle" textLength="33.6" lengthAdjust="spacingAndGlyphs">international</text>
<g font-size="17.6" font-weight="bold">
<text x="9.6" y="18" fill="#2ba0ae" stroke="#2ba0ae" stroke-width="0.5" textLength="13.6" lengthAdjust="spacingAndGlyphs">E</text>
<rect x="9" y="4.6" width="4.8" height="14" fill="#fff"/>
<text x="2.5" y="18" fill="#1c5673" stroke="#1c5673" stroke-width="0.7" textLength="11.6" lengthAdjust="spacingAndGlyphs">C</text>
<text x="22.4" y="18" fill="#1b7288" stroke="#1b7288" stroke-width="0.7" textLength="13" lengthAdjust="spacingAndGlyphs">O</text>
</g>
<text x="19" y="22.5" font-size="4.6" fill="#3aa6b0" text-anchor="middle" textLength="31.6" lengthAdjust="spacingAndGlyphs">social sciences</text>
<text x="19" y="27.3" font-size="7.4" font-weight="bold" fill="#21506b" text-anchor="middle" textLength="31.8" lengthAdjust="spacingAndGlyphs">congress</text>
</g>
<g transform="translate(1135.3 236.4)">
<rect x="0.4" y="1.2" width="37.2" height="25.4" fill="none" stroke="#45a7b1" stroke-width="0.8"/>
<rect x="2.2" y="0" width="33.8" height="4" fill="#fff"/>
<rect x="2.6" y="22.6" width="32.6" height="6" fill="#fff"/>
<text x="19" y="3.9" font-size="6" fill="#2c7d8c" text-anchor="middle" textLength="33.6" lengthAdjust="spacingAndGlyphs">international</text>
<g font-size="17.6" font-weight="bold">
<text x="9.6" y="18" fill="#2ba0ae" stroke="#2ba0ae" stroke-width="0.5" textLength="13.6" lengthAdjust="spacingAndGlyphs">E</text>
<rect x="9" y="4.6" width="4.8" height="14" fill="#fff"/>
<text x="2.5" y="18" fill="#1c5673" stroke="#1c5673" stroke-width="0.7" textLength="11.6" lengthAdjust="spacingAndGlyphs">C</text>
<text x="22.4" y="18" fill="#1b7288" stroke="#1b7288" stroke-width="0.7" textLength="13" lengthAdjust="spacingAndGlyphs">O</text>
</g>
<text x="19" y="22.5" font-size="4.6" fill="#3aa6b0" text-anchor="middle" textLength="31.6" lengthAdjust="spacingAndGlyphs">social sciences</text>
<text x="19" y="27.3" font-size="7.4" font-weight="bold" fill="#21506b" text-anchor="middle" textLength="31.8" lengthAdjust="spacingAndGlyphs">congress</text>
</g>
<g transform="translate(1221.3 236.4)">
<rect x="0.4" y="1.2" width="37.2" height="25.4" fill="none" stroke="#45a7b1" stroke-width="0.8"/>
<rect x="2.2" y="0" width="33.8" height="4" fill="#fff"/>
<rect x="2.6" y="22.6" width="32.6" height="6" fill="#fff"/>
<text x="19" y="3.9" font-size="6" fill="#2c7d8c" text-anchor="middle" textLength="33.6" lengthAdjust="spacingAndGlyphs">international</text>
<g font-size="17.6" font-weight="bold">
<text x="9.6" y="18" fill="#2ba0ae" stroke="#2ba0ae" stroke-width="0.5" textLength="13.6" lengthAdjust="spacingAndGlyphs">E</text>
<rect x="9" y="4.6" width="4.8" height="14" fill="#fff"/>
<text x="2.5" y="18" fill="#1c5673" stroke="#1c5673" stroke-width="0.7" textLength="11.6" lengthAdjust="spacingAndGlyphs">C</text>
<text x="22.4" y="18" fill="#1b7288" stroke="#1b7288" stroke-width="0.7" textLength="13" lengthAdjust="spacingAndGlyphs">O</text>
</g>
<text x="19" y="22.5" font-size="4.6" fill="#3aa6b0" text-anchor="middle" textLength="31.6" lengthAdjust="spacingAndGlyphs">social sciences</text>
<text x="19" y="27.3" font-size="7.4" font-weight="bold" fill="#21506b" text-anchor="middle" textLength="31.8" lengthAdjust="spacingAndGlyphs">congress</text>
</g>
<g transform="translate(920.1 279.5)">
<rect x="0.4" y="1.2" width="37.2" height="25.4" fill="none" stroke="#45a7b1" stroke-width="0.8"/>
<rect x="2.2" y="0" width="33.8" height="4" fill="#fff"/>
<rect x="2.6" y="22.6" width="32.6" height="6" fill="#fff"/>
<text x="19" y="3.9" font-size="6" fill="#2c7d8c" text-anchor="middle" textLength="33.6" lengthAdjust="spacingAndGlyphs">international</text>
<g font-size="17.6" font-weight="bold">
<text x="9.6" y="18" fill="#2ba0ae" stroke="#2ba0ae" stroke-width="0.5" textLength="13.6" lengthAdjust="spacingAndGlyphs">E</text>
<rect x="9" y="4.6" width="4.8" height="14" fill="#fff"/>
<text x="2.5" y="18" fill="#1c5673" stroke="#1c5673" stroke-width="0.7" textLength="11.6" lengthAdjust="spacingAndGlyphs">C</text>
<text x="22.4" y="18" fill="#1b7288" stroke="#1b7288" stroke-width="0.7" textLength="13" lengthAdjust="spacingAndGlyphs">O</text>
</g>
<text x="19" y="22.5" font-size="4.6" fill="#3aa6b0" text-anchor="middle" textLength="31.6" lengthAdjust="spacingAndGlyphs">social sciences</text>
<text x="19" y="27.3" font-size="7.4" font-weight="bold" fill="#21506b" text-anchor="middle" textLength="31.8" lengthAdjust="spacingAndGlyphs">congress</text>
</g>
<g transform="translate(1006.1 279.5)">
<rect x="0.4" y="1.2" width="37.2" height="25.4" fill="none" stroke="#45a7b1" stroke-width="0.8"/>
<rect x="2.2" y="0" width="33.8" height="4" fill="#fff"/>
<rect x="2.6" y="22.6" width="32.6" height="6" fill="#fff"/>
<text x="19" y="3.9" font-size="6" fill="#2c7d8c" text-anchor="middle" textLength="33.6" lengthAdjust="spacingAndGlyphs">international</text>
<g font-size="17.6" font-weight="bold">
<text x="9.6" y="18" fill="#2ba0ae" stroke="#2ba0ae" stroke-width="0.5" textLength="13.6" lengthAdjust="spacingAndGlyphs">E</text>
<rect x="9" y="4.6" width="4.8" height="14" fill="#fff"/>
<text x="2.5" y="18" fill="#1c5673" stroke="#1c5673" stroke-width="0.7" textLength="11.6" lengthAdjust="spacingAndGlyphs">C</text>
<text x="22.4" y="18" fill="#1b7288" stroke="#1b7288" stroke-width="0.7" textLength="13" lengthAdjust="spacingAndGlyphs">O</text>
</g>
<text x="19" y="22.5" font-size="4.6" fill="#3aa6b0" text-anchor="middle" textLength="31.6" lengthAdjust="spacingAndGlyphs">social sciences</text>
<text x="19" y="27.3" font-size="7.4" font-weight="bold" fill="#21506b" text-anchor="middle" textLength="31.8" lengthAdjust="spacingAndGlyphs">congress</text>
</g>
<g transform="translate(1092.1 279.5)">
<rect x="0.4" y="1.2" width="37.2" height="25.4" fill="none" stroke="#45a7b1" stroke-width="0.8"/>
<rect x="2.2" y="0" width="33.8" height="4" fill="#fff"/>
<rect x="2.6" y="22.6" width="32.6" height="6" fill="#fff"/>
<text x="19" y="3.9" font-size="6" fill="#2c7d8c" text-anchor="middle" textLength="33.6" lengthAdjust="spacingAndGlyphs">international</text>
<g font-size="17.6" font-weight="bold">
<text x="9.6" y="18" fill="#2ba0ae" stroke="#2ba0ae" stroke-width="0.5" textLength="13.6" lengthAdjust="spacingAndGlyphs">E</text>
<rect x="9" y="4.6" width="4.8" height="14" fill="#fff"/>
<text x="2.5" y="18" fill="#1c5673" stroke="#1c5673" stroke-width="0.7" textLength="11.6" lengthAdjust="spacingAndGlyphs">C</text>
<text x="22.4" y="18" fill="#1b7288" stroke="#1b7288" stroke-width="0.7" textLength="13" lengthAdjust="spacingAndGlyphs">O</text>
</g>
<text x="19" y="22.5" font-size="4.6" fill="#3aa6b0" text-anchor="middle" textLength="31.6" lengthAdjust="spacingAndGlyphs">social sciences</text>
<text x="19" y="27.3" font-size="7.4" font-weight="bold" fill="#21506b" text-anchor="middle" textLength="31.8" lengthAdjust="spacingAndGlyphs">congress</text>
</g>
<g transform="translate(1178.1 279.5)">
<rect x="0.4" y="1.2" width="37.2" height="25.4" fill="none" stroke="#45a7b1" stroke-width="0.8"/>
<rect x="2.2" y="0" width="33.8" height="4" fill="#fff"/>
<rect x="2.6" y="22.6" width="32.6" height="6" fill="#fff"/>
<text x="19" y="3.9" font-size="6" fill="#2c7d8c" text-anchor="middle" textLength="33.6" lengthAdjust="spacingAndGlyphs">international</text>
<g font-size="17.6" font-weight="bold">
<text x="9.6" y="18" fill="#2ba0ae" stroke="#2ba0ae" stroke-width="0.5" textLength="13.6" lengthAdjust="spacingAndGlyphs">E</text>
<rect x="9" y="4.6" width="4.8" height="14" fill="#fff"/>
<text x="2.5" y="18" fill="#1c5673" stroke="#1c5673" stroke-width="0.7" textLength="11.6" lengthAdjust="spacingAndGlyphs">C</text>
<text x="22.4" y="18" fill="#1b7288" stroke="#1b7288" stroke-width="0.7" textLength="13" lengthAdjust="spacingAndGlyphs">O</text>
</g>
<text x="19" y="22.5" font-size="4.6" fill="#3aa6b0" text-anchor="middle" textLength="31.6" lengthAdjust="spacingAndGlyphs">social sciences</text>
<text x="19" y="27.3" font-size="7.4" font-weight="bold" fill="#21506b" text-anchor="middle" textLength="31.8" lengthAdjust="spacingAndGlyphs">congress</text>
</g>
<g transform="translate(1264.1 279.5)">
<rect x="0.4" y="1.2" width="37.2" height="25.4" fill="none" stroke="#45a7b1" stroke-width="0.8"/>
<rect x="2.2" y="0" width="33.8" height="4" fill="#fff"/>
<rect x="2.6" y="22.6" width="32.6" height="6" fill="#fff"/>
<text x="19" y="3.9" font-size="6" fill="#2c7d8c" text-anchor="middle" textLength="33.6" lengthAdjust="spacingAndGlyphs">international</text>
<g font-size="17.6" font-weight="bold">
<text x="9.6" y="18" fill="#2ba0ae" stroke="#2ba0ae" stroke-width="0.5" textLength="13.6" lengthAdjust="spacingAndGlyphs">E</text>
<rect x="9" y="4.6" width="4.8" height="14" fill="#fff"/>
<text x="2.5" y="18" fill="#1c5673" stroke="#1c5673" stroke-width="0.7" textLength="11.6" lengthAdjust="spacingAndGlyphs">C</text>
<text x="22.4" y="18" fill="#1b7288" stroke="#1b7288" stroke-width="0.7" textLength="13" lengthAdjust="spacingAndGlyphs">O</text>
</g>
<text x="19" y="22.5" font-size="4.6" fill="#3aa6b0" text-anchor="middle" textLength="31.6" lengthAdjust="spacingAndGlyphs">social sciences</text>
<text x="19" y="27.3" font-size="7.4" font-weight="bold" fill="#21506b" text-anchor="middle" textLength="31.8" lengthAdjust="spacingAndGlyphs">congress</text>
</g>
<g transform="translate(877.3 322.6)">
<rect x="0.4" y="1.2" width="37.2" height="25.4" fill="none" stroke="#45a7b1" stroke-width="0.8"/>
<rect x="2.2" y="0" width="33.8" height="4" fill="#fff"/>
<rect x="2.6" y="22.6" width="32.6" height="6" fill="#fff"/>
<text x="19" y="3.9" font-size="6" fill="#2c7d8c" text-anchor="middle" textLength="33.6" lengthAdjust="spacingAndGlyphs">international</text>
<g font-size="17.6" font-weight="bold">
<text x="9.6" y="18" fill="#2ba0ae" stroke="#2ba0ae" stroke-width="0.5" textLength="13.6" lengthAdjust="spacingAndGlyphs">E</text>
<rect x="9" y="4.6" width="4.8" height="14" fill="#fff"/>
<text x="2.5" y="18" fill="#1c5673" stroke="#1c5673" stroke-width="0.7" textLength="11.6" lengthAdjust="spacingAndGlyphs">C</text>
<text x="22.4" y="18" fill="#1b7288" stroke="#1b7288" stroke-width="0.7" textLength="13" lengthAdjust="spacingAndGlyphs">O</text>
</g>
<text x="19" y="22.5" font-size="4.6" fill="#3aa6b0" text-anchor="middle" textLength="31.6" lengthAdjust="spacingAndGlyphs">social sciences</text>
<text x="19" y="27.3" font-size="7.4" font-weight="bold" fill="#21506b" text-anchor="middle" textLength="31.8" lengthAdjust="spacingAndGlyphs">congress</text>
</g>
<g transform="translate(963.3 322.6)">
<rect x="0.4" y="1.2" width="37.2" height="25.4" fill="none" stroke="#45a7b1" stroke-width="0.8"/>
<rect x="2.2" y="0" width="33.8" height="4" fill="#fff"/>
<rect x="2.6" y="22.6" width="32.6" height="6" fill="#fff"/>
<text x="19" y="3.9" font-size="6" fill="#2c7d8c" text-anchor="middle" textLength="33.6" lengthAdjust="spacingAndGlyphs">international</text>
<g font-size="17.6" font-weight="bold">
<text x="9.6" y="18" fill="#2ba0ae" stroke="#2ba0ae" stroke-width="0.5" textLength="13.6" lengthAdjust="spacingAndGlyphs">E</text>
<rect x="9" y="4.6" width="4.8" height="14" fill="#fff"/>
<text x="2.5" y="18" fill="#1c5673" stroke="#1c5673" stroke-width="0.7" textLength="11.6" lengthAdjust="spacingAndGlyphs">C</text>
<text x="22.4" y="18" fill="#1b7288" stroke="#1b7288" stroke-width="0.7" textLength="13" lengthAdjust="spacingAndGlyphs">O</text>
</g>
<text x="19" y="22.5" font-size="4.6" fill="#3aa6b0" text-anchor="middle" textLength="31.6" lengthAdjust="spacingAndGlyphs">social sciences</text>
<text x="19" y="27.3" font-size="7.4" font-weight="bold" fill="#21506b" text-anchor="middle" textLength="31.8" lengthAdjust="spacingAndGlyphs">congress</text>
</g>
<g transform="translate(1049.3 322.6)">
<rect x="0.4" y="1.2" width="37.2" height="25.4" fill="none" stroke="#45a7b1" stroke-width="0.8"/>
<rect x="2.2" y="0" width="33.8" height="4" fill="#fff"/>
<rect x="2.6" y="22.6" width="32.6" height="6" fill="#fff"/>
<text x="19" y="3.9" font-size="6" fill="#2c7d8c" text-anchor="middle" textLength="33.6" lengthAdjust="spacingAndGlyphs">international</text>
<g font-size="17.6" font-weight="bold">
<text x="9.6" y="18" fill="#2ba0ae" stroke="#2ba0ae" stroke-width="0.5" textLength="13.6" lengthAdjust="spacingAndGlyphs">E</text>
<rect x="9" y="4.6" width="4.8" height="14" fill="#fff"/>
<text x="2.5" y="18" fill="#1c5673" stroke="#1c5673" stroke-width="0.7" textLength="11.6" lengthAdjust="spacingAndGlyphs">C</text>
<text x="22.4" y="18" fill="#1b7288" stroke="#1b7288" stroke-width="0.7" textLength="13" lengthAdjust="spacingAndGlyphs">O</text>
</g>
<text x="19" y="22.5" font-size="4.6" fill="#3aa6b0" text-anchor="middle" textLength="31.6" lengthAdjust="spacingAndGlyphs">social sciences</text>
<text x="19" y="27.3" font-size="7.4" font-weight="bold" fill="#21506b" text-anchor="middle" textLength="31.8" lengthAdjust="spacingAndGlyphs">congress</text>
</g>
<g transform="translate(1135.3 322.6)">
<rect x="0.4" y="1.2" width="37.2" height="25.4" fill="none" stroke="#45a7b1" stroke-width="0.8"/>
<rect x="2.2" y="0" width="33.8" height="4" fill="#fff"/>
<rect x="2.6" y="22.6" width="32.6" height="6" fill="#fff"/>
<text x="19" y="3.9" font-size="6" fill="#2c7d8c" text-anchor="middle" textLength="33.6" lengthAdjust="spacingAndGlyphs">international</text>
<g font-size="17.6" font-weight="bold">
<text x="9.6" y="18" fill="#2ba0ae" stroke="#2ba0ae" stroke-width="0.5" textLength="13.6" lengthAdjust="spacingAndGlyphs">E</text>
<rect x="9" y="4.6" width="4.8" height="14" fill="#fff"/>
<text x="2.5" y="18" fill="#1c5673" stroke="#1c5673" stroke-width="0.7" textLength="11.6" lengthAdjust="spacingAndGlyphs">C</text>
<text x="22.4" y="18" fill="#1b7288" stroke="#1b7288" stroke-width="0.7" textLength="13" lengthAdjust="spacingAndGlyphs">O</text>
</g>
<text x="19" y="22.5" font-size="4.6" fill="#3aa6b0" text-anchor="middle" textLength="31.6" lengthAdjust="spacingAndGlyphs">social sciences</text>
<text x="19" y="27.3" font-size="7.4" font-weight="bold" fill="#21506b" text-anchor="middle" textLength="31.8" lengthAdjust="spacingAndGlyphs">congress</text>
</g>
<g transform="translate(1221.3 322.6)">
<rect x="0.4" y="1.2" width="37.2" height="25.4" fill="none" stroke="#45a7b1" stroke-width="0.8"/>
<rect x="2.2" y="0" width="33.8" height="4" fill="#fff"/>
<rect x="2.6" y="22.6" width="32.6" height="6" fill="#fff"/>
<text x="19" y="3.9" font-size="6" fill="#2c7d8c" text-anchor="middle" textLength="33.6" lengthAdjust="spacingAndGlyphs">international</text>
<g font-size="17.6" font-weight="bold">
<text x="9.6" y="18" fill="#2ba0ae" stroke="#2ba0ae" stroke-width="0.5" textLength="13.6" lengthAdjust="spacingAndGlyphs">E</text>
<rect x="9" y="4.6" width="4.8" height="14" fill="#fff"/>
<text x="2.5" y="18" fill="#1c5673" stroke="#1c5673" stroke-width="0.7" textLength="11.6" lengthAdjust="spacingAndGlyphs">C</text>
<text x="22.4" y="18" fill="#1b7288" stroke="#1b7288" stroke-width="0.7" textLength="13" lengthAdjust="spacingAndGlyphs">O</text>
</g>
<text x="19" y="22.5" font-size="4.6" fill="#3aa6b0" text-anchor="middle" textLength="31.6" lengthAdjust="spacingAndGlyphs">social sciences</text>
<text x="19" y="27.3" font-size="7.4" font-weight="bold" fill="#21506b" text-anchor="middle" textLength="31.8" lengthAdjust="spacingAndGlyphs">congress</text>
</g>
</g>

<g filter="url(#bl2)">
<!-- shirt -->
<path d="M915 366 L930 338 L952 314 L980 299 L1006 288 L1030 300 L1098 296 L1106 279 L1120 283.5 L1144 285 L1167 288.5 L1187 296 L1200 311 L1215 337 L1228 366 Z" fill="#fcfcfd"/>
<path d="M1104 282 L1130 285 L1160 289 L1186 297 L1199 312 L1214 337 L1227 366 L1096 366 L1098 300 Z" fill="#e2e2e8"/>
<path d="M1006 290 L1014 296 L1018 330 L1022 366 L1008 366 L1004 320 Z" fill="#cfcfe6"/>
<path d="M940 340 L1000 325 L1000 345 L945 350 Z" fill="#ececf0"/>
<path d="M1092 300 L1102 292 L1112 330 L1118 366 L1090 366 Z" fill="#a5a6b8"/>
<path d="M1100 345 L1136 340 L1142 366 L1098 366 Z" fill="#b4bbd6"/>
<path d="M1120 288 L1170 292 L1166 306 L1124 308 Z" fill="#f6f6f9"/>
<path d="M1126 314 L1168 312 L1172 366 L1140 366 Z" fill="#d9d9e2"/>
<path d="M1172 306 L1182 304 L1180 340 L1176 366 L1168 366 Z" fill="#a9a9b2"/>
<path d="M1186 304 L1194 310 L1192 340 L1190 366 L1182 366 Z" fill="#f2f2f4"/>
<path d="M1198 318 L1208 330 L1222 366 L1200 366 Z" fill="#cfcfd4"/>
</g>
<g filter="url(#bl1)">
<path d="M1106 283 L1112 284 L1126 352 L1119 352 Z" fill="#f4f4f8"/>
<!-- neck -->
<path d="M1026 304 L1100 298 L1095 330 L1091 366 L1056 366 L1045 338 Z" fill="#4a2e25"/>
<!-- head silhouette (hair) -->
<path d="M997.4 249 L995 231 L992.5 212 L991.5 194 C992.5 180 997 174 1001.8 168.3 C1007 160 1012 156 1019 152 C1026 147 1034 144 1041 144 C1049 144 1056 145.6 1062.7 148.3 C1070 151.6 1076 156 1082 160.7 C1088 166 1092 171 1095.4 177 C1099 183 1101 189 1102.4 194.4 L1104.4 205 L1109 218.4 L1112 235.8 L1112 249 L1111 253 L1109 272.7 L1103 290 L1098 303 L1093 316 L1060 322 L1045 322 L1031 314 L1016 301 L1005 283.5 L999.2 261.8 Z" fill="#33241e"/>
</g>
<g filter="url(#bl2)">
<!-- skin -->
<path d="M999 249 L996.5 231 L995 212 L996 198 C999 188 1003 180 1008 174 C1016 166 1030 160 1045 159.4 C1056 159.6 1068 162.6 1080 169 C1088 175.5 1093 184 1096 195 L1100 207 L1106 220 L1109 236 L1109 250 L1106 272 L1100 289 L1095 302 L1090 314 L1060 320 L1045 320 L1033 312 L1019 299 L1008 282 L1002 262 Z" fill="url(#skin)"/>
<ellipse cx="1045" cy="181" rx="40" ry="14" fill="#9f7560"/>
<ellipse cx="1040" cy="171" rx="20" ry="5" fill="#bf9a87"/>
<ellipse cx="1032" cy="187" rx="14" ry="3" fill="#b8917e"/>
<ellipse cx="1017" cy="219" rx="18" ry="10" fill="#4b3128"/>
<ellipse cx="1074" cy="210" rx="19" ry="10" fill="#4b3128"/>
<ellipse cx="1044" cy="208" rx="8" ry="4" fill="#6b4536"/>
<ellipse cx="1016" cy="221" rx="8" ry="3.2" fill="#2e1d19"/>
<ellipse cx="1072" cy="212" rx="8" ry="3.2" fill="#2e1d19"/>
<ellipse cx="1088" cy="240" rx="13" ry="8" fill="#7a503d"/>
<ellipse cx="1043" cy="243" rx="13" ry="7" fill="#875b48"/>
<ellipse cx="1051" cy="275" rx="21" ry="10" fill="#36221d"/>
<ellipse cx="1052" cy="260" rx="14" ry="3" fill="#6e4637"/>
<ellipse cx="1058" cy="300" rx="26" ry="8" fill="#684234"/>
<ellipse cx="1101" cy="270" rx="6" ry="22" fill="#51332a"/>
<ellipse cx="1004" cy="262" rx="5" ry="18" fill="#5a3a2f"/>
</g>
<g filter="url(#bl1)">
<path d="M1076 163 L1086 166 L1097 182 L1103 200 L1105 210 L1099 209 L1094 192 L1086 176 Z" fill="#36261f"/>
<path d="M993 196 L995 182 L1003 170 L1012 163 L1009 172 L1001 184 L998 198 Z" fill="#36261f"/>
<path d="M1041.2 214 L1043.6 214 L1044.2 234 L1040.8 234 Z" fill="#c5a292"/>
<ellipse cx="1051.5" cy="273.5" rx="7.5" ry="3" fill="#b5aeae"/>
<ellipse cx="1036" cy="249" rx="3" ry="1.6" fill="#2e1a16"/>
<ellipse cx="1053" cy="249" rx="3" ry="1.6" fill="#2e1a16"/>
</g>

<rect x="887.6" y="341.6" width="206.4" height="20.2" rx="4" fill="#3c3c3c" fill-opacity="0.8"/>
<g fill="#fff">
<rect x="890.8" y="354.2" width="2.6" height="3.6" rx="0.6"/>
<rect x="894.7" y="351.2" width="2.6" height="6.6" rx="0.6"/>
<rect x="898.6" y="348.2" width="2.6" height="9.6" rx="0.6"/>
<rect x="902.5" y="345.2" width="2.6" height="12.6" rx="0.6"/>
</g>
<text x="910.6" y="357" class="nm" textLength="179.5" lengthAdjust="spacingAndGlyphs">Janjan Achnihadian 241173085</text>
</g>
</svg>
</body>
</html>
